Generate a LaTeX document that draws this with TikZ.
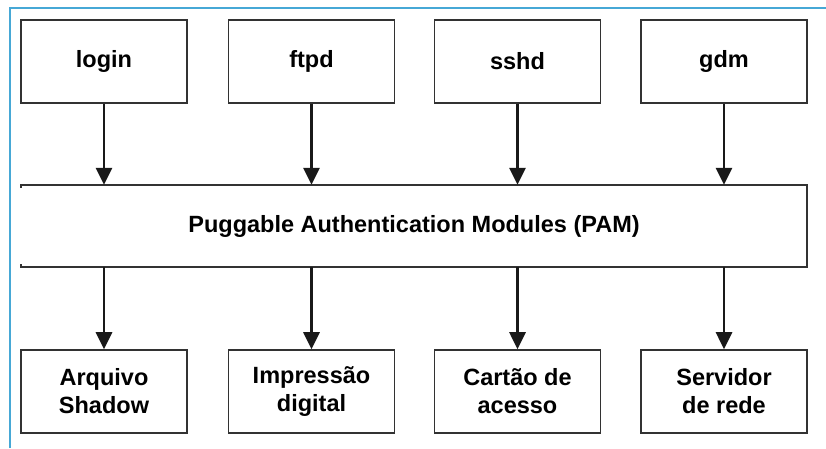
\documentclass[tikz,border=0pt]{standalone}
\usepackage{fontspec}
\setmainfont{Liberation Sans}
\usetikzlibrary{positioning}
\usetikzlibrary {arrows.meta}

\definecolor{framebl}{RGB}{70,168,214}
\definecolor{boxgray}{RGB}{50,50,50}

\begin{document}
\begin{tikzpicture}[x=1pt, y=-1pt,
    appnode/.style={draw=boxgray, line width=1.6pt, minimum width=166pt, minimum height=83pt,
        font=\fontsize{23.5}{28}\selectfont\bfseries, align=center, inner sep=0pt},
    pamnode/.style={minimum width=786pt, minimum height=82pt,
        font=\fontsize{23.5}{28}\selectfont\bfseries, inner sep=0pt},
    flow/.style={line width=2.8pt, draw=black!90, -{Triangle[width=16pt, length=17pt]}}
]
    \useasboundingbox (0,0) rectangle (826,448);
    % Outer frame (only top and left edges show)
    \draw [framebl, line width=1.4pt] (10,448) -- (10,8) -- (826,8);

    % Services on top
    \node at (104, 61.5) [appnode](login){login};
    \node at (311.5, 61.5) [appnode](ftpd){ftpd};
    \node at (517.5, 61.5) [appnode](sshd){sshd};
    \node at (724, 61.5) [appnode](gdm){gdm};

    % - [PAM layer]
    \node at (414, 226) [pamnode](pam){Puggable Authentication Modules (PAM)};
    % -- left side is open, only small ticks at the corners
    \draw [boxgray, line width=1.6pt] ([yshift=-3pt] pam.north west) -- (pam.north west)
        -- (pam.north east) -- (pam.south east) -- (pam.south west) -- ([yshift=3pt] pam.south west);

    % Back-ends at the bottom
    \node at (104, 391.5) [appnode](shadow){Arquivo\\Shadow};
    \node at (311.5, 391.5) [appnode](digital){\raisebox{-3pt}{\begin{tabular}{@{}c@{}}Impressão\\digital\end{tabular}}};
    \node at (517.5, 391.5) [appnode](cartao){Cartão de\\acesso};
    \node at (724, 391.5) [appnode](rede){Servidor\\de rede};

    % - [Arrows] services -> PAM
    \draw [flow] (login.south) -- (login.south |- pam.north);
    \draw [flow] (ftpd.south) -- (ftpd.south |- pam.north);
    \draw [flow] (sshd.south) -- (sshd.south |- pam.north);
    \draw [flow] (gdm.south) -- (gdm.south |- pam.north);
    % - [Arrows] PAM -> back-ends
    \draw [flow] (shadow.north |- pam.south) -- (shadow.north);
    \draw [flow] (digital.north |- pam.south) -- (digital.north);
    \draw [flow] (cartao.north |- pam.south) -- (cartao.north);
    \draw [flow] (rede.north |- pam.south) -- (rede.north);
\end{tikzpicture}
\end{document}
